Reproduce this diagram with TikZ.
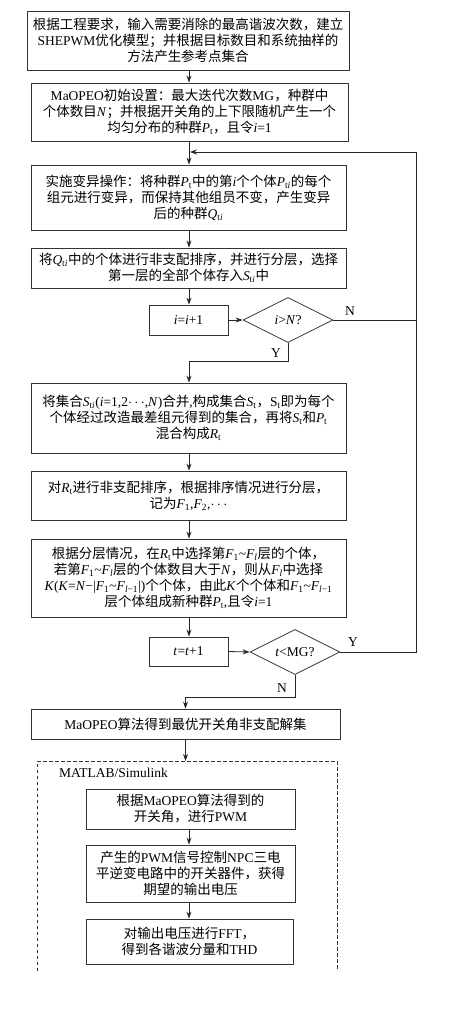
\documentclass[tikz,border=0pt]{standalone}
\usepackage{fontspec}
\setmainfont{Liberation Serif}
\newfontfamily\cjk{Noto Sans CJK SC}
\usetikzlibrary{shapes.geometric,arrows.meta,calc}
\newcommand\zh[1]{{\cjk #1}}
\newcommand\sub[1]{\textsubscript{#1}}
\newcommand\iv[1]{\textit{#1}}
\tikzset{
  boxstyle/.style={draw=black!80, line width=0.8pt, align=center, inner sep=0pt,
    font=\fontsize{13.5}{16}\selectfont},
  decide/.style={draw=black!80, line width=0.8pt, diamond, inner sep=0pt, aspect=2,
    minimum width=90pt, minimum height=45pt, font=\fontsize{13.5}{16}\selectfont},
  arr/.style={draw=black!85, line width=0.8pt, -{Stealth[length=7pt,width=5pt]}},
  ln/.style={draw=black!85, line width=0.8pt},
  lab/.style={font=\fontsize{13.5}{16}\selectfont, inner sep=0pt},
  dashbox/.style={draw=black!80, line width=0.8pt, dash pattern=on 3.5pt off 2.5pt}
}
\begin{document}
\begin{tikzpicture}[x=1pt,y=-1pt]
\useasboundingbox (0,0) rectangle (452,1026);
\coordinate (cx) at (189,0);
\coordinate (rx) at (416,152);

\node[boxstyle, minimum width=322pt, minimum height=59pt] (b1) at (188,40.5)
 {\zh{根据工程要求，输入需要消除的最高谐波次数，建立}\\SHEPWM\zh{优化模型；并根据目标数目和系统抽样的}\\\zh{方法产生参考点集合}};
\node[boxstyle, minimum width=317pt, minimum height=58pt] (b2) at (189.5,112)
 {MaOPEO\zh{初始设置：最大迭代次数}MG\zh{，种群中}\\\zh{个体数目}\iv{N}\zh{；并根据开关角的上下限随机产生一个}\\\zh{均匀分布的种群}\iv{P}\sub{t}\zh{，且令}\iv{i}=1};
\node[boxstyle, minimum width=315pt, minimum height=65pt] (b3) at (188.5,197.5)
 {\zh{实施变异操作：将种群}\iv{P}\sub{t}\zh{中的第}\iv{i}\zh{个个体}\iv{P}\sub{t\iv{i}}\zh{的每个}\\\zh{组元进行变异，而保持其他组员不变，产生变异}\\\zh{后的种群}\iv{Q}\sub{t\iv{i}}};
\node[boxstyle, minimum width=315pt, minimum height=40pt] (b4) at (188.5,268)
 {\zh{将}\iv{Q}\sub{t\iv{i}}\zh{中的个体进行非支配排序，并进行分层，选择}\\\zh{第一层的全部个体存入}\iv{S}\sub{t\iv{i}}\zh{中}};
\node[boxstyle, minimum width=79pt, minimum height=30pt] (inc1) at (188.5,320)
 {\iv{i}=\iv{i}+1};
\node[decide] (d1) at (288,320) {\iv{i}>\iv{N}?};
\node[boxstyle, minimum width=315pt, minimum height=70pt] (b5) at (188.5,418)
 {\zh{将集合}\iv{S}\sub{t\iv{i}}(\iv{i}=1,2$\cdots$,\iv{N})\zh{合并},\zh{构成集合}\iv{S}\sub{t}\zh{，}S\sub{t}\zh{即为每个}\\\zh{个体经过改造最差组元得到的集合，再将}\iv{S}\sub{t}\zh{和}\iv{P}\sub{t}\\\zh{混合构成}\iv{R}\sub{t}};
\node[boxstyle, minimum width=315pt, minimum height=49pt] (b6) at (188.5,495.5)
 {\zh{对}\iv{R}\sub{t}\zh{进行非支配排序，根据排序情况进行分层，}\\\zh{记为}\iv{F}\sub{1},\iv{F}\sub{2},$\cdots$};
\node[boxstyle, minimum width=315pt, minimum height=78pt] (b7) at (188.5,578)
 {\zh{根据分层情况，在}\iv{R}\sub{t}\zh{中选择第}\iv{F}\sub{1}\textasciitilde\iv{F}\sub{\iv{l}}\zh{层的个体，}\\\zh{若第}\iv{F}\sub{1}\textasciitilde\iv{F}\sub{\iv{l}}\zh{层的个体数目大于}\iv{N}\zh{，则从}\iv{F}\sub{\iv{l}}\zh{中选择}\\\iv{K}(\iv{K}=\iv{N}−|\iv{F}\sub{1}\textasciitilde\iv{F}\sub{\iv{l}−1}|)\zh{个个体，由此}\iv{K}\zh{个个体和}\iv{F}\sub{1}\textasciitilde\iv{F}\sub{\iv{l}−1}\\\zh{层个体组成新种群}\iv{P}\sub{t},\zh{且令}\iv{i}=1};
\node[boxstyle, minimum width=79pt, minimum height=29pt] (inc2) at (188.5,651.5)
 {\iv{t}=\iv{t}+1};
\node[decide] (d2) at (295,652) {\iv{t}<MG?};
\node[boxstyle, minimum width=309pt, minimum height=30pt] (b8) at (185.5,724)
 {MaOPEO\zh{算法得到最优开关角非支配解集}};
\node[lab, anchor=west] (ml) at (59,773) {MATLAB/Simulink};
\node[boxstyle, minimum width=209pt, minimum height=40pt] (b9) at (190.5,809)
 {\zh{根据}MaOPEO\zh{算法得到的}\\\zh{开关角，进行}PWM};
\node[boxstyle, minimum width=209pt, minimum height=57pt] (b10) at (190.5,873.5)
 {\zh{产生的}PWM\zh{信号控制}NPC\zh{三电}\\\zh{平逆变电路中的开关器件，获得}\\\zh{期望的输出电压}};
\node[boxstyle, minimum width=207pt, minimum height=45pt] (b11) at (189.5,941.5)
 {\zh{对输出电压进行}FFT\zh{，}\\\zh{得到各谐波分量和}THD};

% dashed frame (open at bottom)
\coordinate (f1) at (37,971);
\coordinate (f2) at (37,761);
\coordinate (f3) at (337,761);
\coordinate (f4) at (337,971);
\draw[dashbox] (f1) -- (f2) -- (f3) -- (f4);

% main arrows
\draw[arr] (b1.south -| cx) -- (b2.north -| cx);
\draw[arr] (b2.south -| cx) -- (b3.north -| cx);
\draw[arr] (b3.south -| cx) -- (b4.north -| cx);
\draw[arr] (b4.south -| cx) -- (inc1.north -| cx);
\draw[arr] (inc1.east) -- (d1.west);
\draw[arr] (d1.south) -- ++(0,18) -| (b5.north -| cx);
\draw[arr] (b5.south -| cx) -- (b6.north -| cx);
\draw[arr] (b6.south -| cx) -- (b7.north -| cx);
\draw[arr] (b7.south -| cx) -- (inc2.north -| cx);
\draw[arr] (inc2.east) -- (d2.west);
\draw[arr] (d2.south) -- ++(0,22) -| (b8.north);
\draw[arr] (b8.south) -- (b8.south |- f2);
\draw[arr] (b9.south -| cx) -- (b10.north -| cx);
\draw[arr] (b10.south -| cx) -- (b11.north -| cx);

% feedback
\draw[ln] (d1.east) -- (d1.east -| rx);
\draw[arr] (d2.east) -- (d2.east -| rx) -- (rx) -- ($(rx -| cx)+(1,0)$);

% labels
\node[lab] (ln1) at (350,311) {N};
\node[lab] (ly1) at (276,353) {Y};
\node[lab] (ly2) at (353,642) {Y};
\node[lab] (ln2) at (282,688) {N};
\end{tikzpicture}
\end{document}
